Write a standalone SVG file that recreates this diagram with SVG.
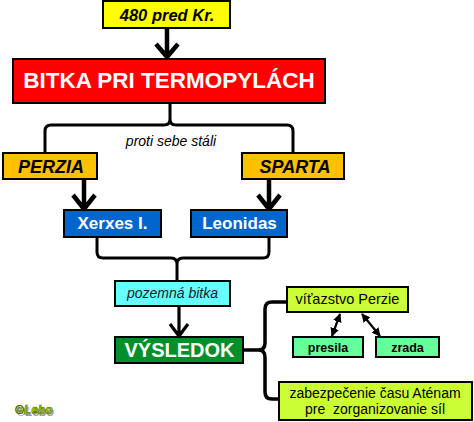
<svg xmlns="http://www.w3.org/2000/svg" width="474" height="422" viewBox="0 0 474 422">
<defs>
<style>
.box{stroke:#000;stroke-width:2}
.t{font-family:"Liberation Sans",Arial,sans-serif;text-anchor:middle}
.arr{fill:none;stroke:#000;stroke-width:4.5;stroke-linejoin:miter;stroke-linecap:butt}
.br{fill:none;stroke:#000;stroke-width:3;stroke-linejoin:round}
.dbl{fill:none;stroke:#000;stroke-width:2.2;marker-start:url(#ah);marker-end:url(#ah)}
</style>
<marker id="ah" viewBox="0 0 10 10" refX="9" refY="5" markerWidth="4" markerHeight="4" orient="auto-start-reverse">
<path d="M0,0 L10,5 L0,10 z" fill="#000"/>
</marker>
</defs>
<rect width="474" height="422" fill="#fff"/>
<g id="connectors">
<path class="arr" d="M167,28 L167,56 M156,44 L167,57 L178,44"/>
<path class="br" d="M170,103 L170,119 Q170,125 164,125 L51,125 Q45,125 45,131 L45,153 M170,119 Q170,125 176,125 L287,125 Q293,125 293,131 L293,153"/>
<path class="arr" d="M84,179 L84,208 M73,195 L84,209 L95,195"/>
<path class="arr" d="M269,179 L269,208 M258,195 L269,209 L280,195"/>
<path class="br" d="M97,237 L97,252 Q97,258 103,258 L171,258 Q177,258 177,264 L177,281 M269,237 L269,252 Q269,258 263,258 L183,258 Q177,258 177,264"/>
<path class="arr" style="stroke-width:3.2" d="M179,306 L179,335 M170,324 L179,336 L188,324"/>
<path class="br" style="stroke-width:3.5" d="M243,350 L258,350 Q265,350 265,343 L265,309 Q265,302 272,302 L287,302 M258,350 Q265,350 265,357 L265,392 Q265,399 272,399 L280,399"/>
<path class="dbl" d="M340,314 L332,336"/>
<path class="dbl" d="M362,314 L380,336"/>
</g>
<g id="n-480">
<rect class="box" x="103" y="1" width="127" height="27" fill="#FFFF00"/>
<text class="t" x="167" y="21" font-size="16.5" font-weight="bold" font-style="italic">480 pred Kr.</text>
</g>
<g id="n-bitka">
<rect class="box" x="13" y="59" width="312" height="44" fill="#FF0000"/>
<text class="t" x="169" y="88" font-size="22.5" font-weight="bold" fill="#fff">BITKA PRI TERMOPYLÁCH</text>
</g>
<g id="n-proti">
<text class="t" x="171" y="146" font-size="14" font-style="italic">proti sebe stáli</text>
</g>
<g id="n-perzia">
<rect class="box" x="3" y="153" width="94" height="26" fill="#FFC000"/>
<text class="t" x="51" y="173" font-size="18" font-weight="bold" font-style="italic">PERZIA</text>
</g>
<g id="n-sparta">
<rect class="box" x="242" y="153" width="102" height="26" fill="#FFC000"/>
<text class="t" x="295" y="173" font-size="18" font-weight="bold" font-style="italic">SPARTA</text>
</g>
<g id="n-xerxes">
<rect class="box" x="64" y="210" width="97" height="27" fill="#0066CC"/>
<text class="t" x="112.5" y="229" font-size="17" font-weight="bold" fill="#fff">Xerxes I.</text>
</g>
<g id="n-leonidas">
<rect class="box" x="191" y="210" width="96" height="27" fill="#0066CC"/>
<text class="t" x="239.5" y="229" font-size="17" font-weight="bold" fill="#fff">Leonidas</text>
</g>
<g id="n-pozemna">
<rect class="box" x="115" y="281" width="115" height="25" fill="#66FFFF"/>
<text class="t" x="172.5" y="298" font-size="14" font-style="italic" fill="#1a1a2e">pozemná bitka</text>
</g>
<g id="n-vysledok">
<rect class="box" x="115" y="337" width="128" height="26" fill="#008F2A"/>
<text class="t" x="179.5" y="357" font-size="20" font-weight="bold" fill="#fff">VÝSLEDOK</text>
</g>
<g id="n-vitazstvo">
<rect class="box" x="287" y="287" width="121" height="25" fill="#CCFF33"/>
<text class="t" x="347.5" y="304" font-size="14.5">víťazstvo Perzie</text>
</g>
<g id="n-presila">
<rect class="box" x="293" y="337" width="70" height="20" fill="#66FF99"/>
<text class="t" x="328" y="352" font-size="12.5" font-weight="bold">presila</text>
</g>
<g id="n-zrada">
<rect class="box" x="376" y="337" width="63" height="20" fill="#66FF99"/>
<text class="t" x="407.5" y="352" font-size="12.5" font-weight="bold">zrada</text>
</g>
<g id="n-zabezpecenie">
<rect class="box" x="279" y="382" width="193" height="38" fill="#CCFF33"/>
<text class="t" x="375" y="398" font-size="14">zabezpečenie času Aténam</text>
<text class="t" x="375" y="414" font-size="14" xml:space="preserve">pre  zorganizovanie síl</text>
</g>
<g id="logo">
<text x="15" y="414" font-family="'Liberation Sans',Arial,sans-serif" font-size="12" font-weight="bold" font-style="italic" fill="#555" opacity="0.6" transform="translate(1.5,1.5)">©Lebo</text>
<text x="15" y="414" font-family="'Liberation Sans',Arial,sans-serif" font-size="12" font-weight="bold" font-style="italic" fill="#A8D000" stroke="#3d5a00" stroke-width="0.5">©Lebo</text>
</g>
</svg>
